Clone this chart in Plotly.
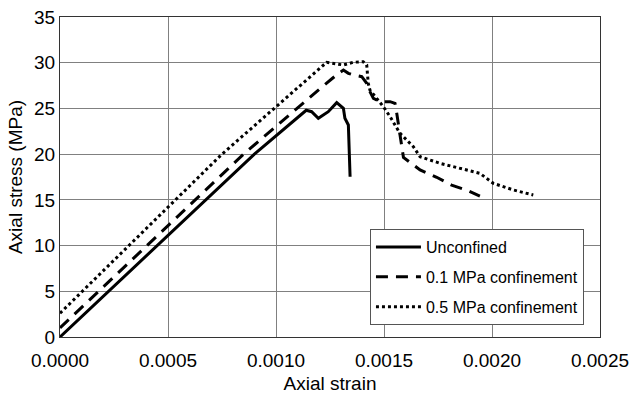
import plotly.graph_objects as go

# Unconfined
strain_unconf = [0.0, 0.0009, 0.00114, 0.001165, 0.001196, 0.001242, 0.001281, 0.001312,
                 0.001319, 0.001335, 0.001343]
stress_unconf = [0.0, 20.0, 24.8, 24.64, 23.92, 24.64, 25.63, 25.01,
                 23.92, 23.19, 17.53]

# 0.1 MPa confinement
strain_c01 = [0.0, 0.00085, 0.001196, 0.001258, 0.00128, 0.001312, 0.001335, 0.001358,
              0.001397, 0.00142, 0.001435, 0.001451, 0.001481, 0.001528, 0.001551, 0.001559,
              0.001574, 0.00159, 0.001667, 0.001744, 0.001813, 0.00189, 0.001944]
stress_c01 = [1.0, 20.0, 27.0, 28.3, 28.66, 29.2, 28.84, 28.66,
              28.47, 27.75, 26.83, 26.1, 25.74, 25.74, 25.56, 24.47,
              21.9, 19.65, 18.27, 17.47, 16.62, 16.0, 15.42]

# 0.5 MPa confinement
strain_c05 = [0.0, 0.00075, 0.001235, 0.001265, 0.001312, 0.001358, 0.001404, 0.00142,
              0.001427, 0.001435, 0.001466, 0.001497, 0.001528, 0.001574, 0.001636, 0.001667,
              0.001759, 0.001852, 0.001944, 0.002006, 0.002099, 0.002191]
stress_c05 = [2.6, 20.0, 30.05, 29.94, 29.75, 30.05, 30.11, 29.75,
              27.75, 27.0, 26.1, 25.19, 24.1, 22.28, 20.81, 19.72,
              19.0, 18.45, 17.9, 16.81, 16.08, 15.53]

x_ticks = [0.0, 0.0005, 0.0010, 0.0015, 0.0020, 0.0025]
y_ticks = [0, 5, 10, 15, 20, 25, 30, 35]

FONT = "Liberation Sans, Arial, sans-serif"

fig = go.Figure()
fig.add_trace(go.Scatter(x=strain_unconf, y=stress_unconf, mode="lines", name="Unconfined",
                         legendgroup="a",
                         line=dict(color="black", width=3)))
fig.add_trace(go.Scatter(x=strain_c01, y=stress_c01, mode="lines", name="0.1 MPa confinement",
                         legendgroup="b",
                         line=dict(color="black", width=3, dash="12px,8px")))
fig.add_trace(go.Scatter(x=strain_c05, y=stress_c05, mode="lines", name="0.5 MPa confinement",
                         legendgroup="c",
                         line=dict(color="black", width=3, dash="3px,3px")))

fig.update_layout(
    width=632, height=394,
    margin=dict(l=60, r=32, t=17, b=57),
    paper_bgcolor="white", plot_bgcolor="white",
    font=dict(family=FONT, color="black", size=19),
    showlegend=True,
    legend=dict(
        x=0.574, y=0.337, xanchor="left", yanchor="top",
        bgcolor="white", bordercolor="#555555", borderwidth=1,
        font=dict(size=16, family=FONT, color="black"),
        tracegroupgap=6, traceorder="grouped", itemwidth=45,
    ),
    xaxis=dict(
        range=[0, 0.0025], tickvals=x_ticks, tickformat=".4f",
        showgrid=True, gridcolor="#808080", gridwidth=1,
        showline=True, linecolor="#333333", linewidth=1, mirror=True,
        zeroline=False, ticks="", tickfont=dict(size=19), automargin=False,
        ticklabelstandoff=6,
        title=dict(text="Axial strain", font=dict(size=19), standoff=13),
    ),
    yaxis=dict(
        range=[0, 35], tickvals=y_ticks,
        showgrid=True, gridcolor="#808080", gridwidth=1,
        showline=True, linecolor="#333333", linewidth=1, mirror=True,
        zeroline=False, ticks="", tickfont=dict(size=19), automargin=False,
        title=dict(text="Axial stress (MPa)", font=dict(size=19), standoff=6),
    ),
)

fig.write_html("out.html")
